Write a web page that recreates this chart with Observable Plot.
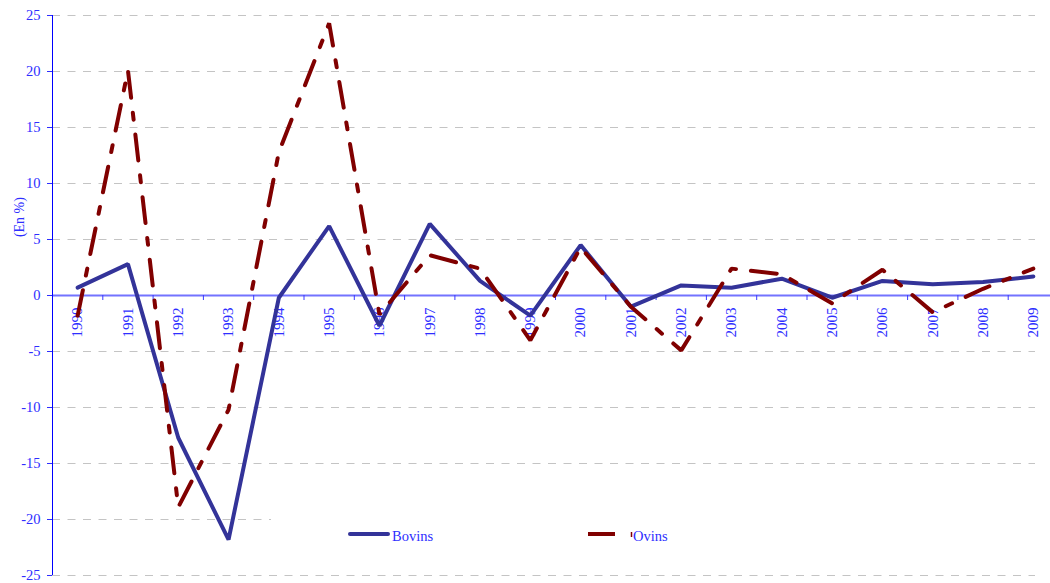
<!DOCTYPE html>
<html><head><meta charset="utf-8">
<script src="https://cdn.jsdelivr.net/npm/d3@7"></script>
<script src="https://cdn.jsdelivr.net/npm/@observablehq/plot@0.6"></script>
<style>
html,body{margin:0;padding:0;background:#fff;}
#wrap{position:relative;width:1050px;height:583px;overflow:hidden;}
#legend{position:absolute;left:271px;top:509px;width:779px;height:54px;background:#fff;}
</style></head><body><div id="wrap"></div>
<script>
const years = [1990,1991,1992,1993,1994,1995,1996,1997,1998,1999,2000,2001,2002,2003,2004,2005,2006,2007,2008,2009];
const bovins = [0.7, 2.8, -12.7, -21.8, -0.2, 6.2, -2.7, 6.4, 1.3, -1.8, 4.5, -1.0, 0.9, 0.7, 1.5, -0.2, 1.3, 1.0, 1.2, 1.7];
const ovins = [-1.8, 20.1, -18.9, -10.2, 12.8, 24.3, -1.7, 3.6, 2.4, -4.0, 4.3, -1.0, -4.9, 2.4, 1.9, -0.7, 2.3, -1.5, 0.6, 2.4];
const yTicks = [25,20,15,10,5,0,-5,-10,-15,-20,-25];
const xTickLabels = years.map(String);
const seriesNames = ["Bovins", "Ovins"];
const yLabel = "(En %)";

const textBlue = "#2e2eff";
const bovData = years.map((y,i)=>({year:y, value:bovins[i]}));
const ovData = years.map((y,i)=>({year:y, value:ovins[i]}));
const boundaries = years.slice(0,-1).map(y=>y+0.5);

const chart = Plot.plot({
  width:1050, height:583, marginTop:15, marginBottom:8, marginLeft:52, marginRight:0,
  x:{type:"linear", domain:[years[0]-0.5, years[years.length-1]+0.5], range:[52,1058], axis:null},
  y:{domain:[-25,25], axis:null},
  style:{fontFamily:"'Liberation Serif', serif", fontSize:"14px", background:"#fff"},
  marks:[
    Plot.ruleY(yTicks.filter(d=>d!==0), {stroke:"#c4c4c4", strokeDasharray:"8,7.5", insetRight:15}),
    Plot.ruleY([0], {stroke:"#7373ff", strokeWidth:2}),
    Plot.ruleX(boundaries, {y1:0, y2:0, insetBottom:-5, stroke:"#3a3aff"}),
    Plot.ruleX([years[0]-0.5], {stroke:"#0000ff"}),
    Plot.axisY({ticks:yTicks, tickSize:5, tickPadding:7, tickFormat:d=>String(d), color:textBlue, label:null, fontSize:14.5}),
    Plot.text(xTickLabels, {x:(d,i)=>years[i], y:()=>0, text:d=>d, rotate:-90, textAnchor:"end", dy:12, fill:textBlue, fontSize:15}),
    Plot.text([yLabel], {frameAnchor:"left", y:()=>7, text:d=>d, dx:-33, rotate:-90, textAnchor:"middle", fill:textBlue, fontSize:14}),
    Plot.line(bovData, {x:"year", y:"value", stroke:"#333399", strokeWidth:4, strokeLinejoin:"miter"}),
    Plot.line(ovData, {x:"year", y:"value", stroke:"#800000", strokeWidth:4, strokeLinejoin:"miter", strokeDasharray:"26,15,7,15"})
  ]
});
const wrap = document.getElementById("wrap");
wrap.appendChild(chart);
const legend = document.createElement("div");
legend.id = "legend";
legend.innerHTML = `<svg width="779" height="54" style="position:absolute;left:0;top:0;font-family:'Liberation Serif',serif;font-size:14.5px">
  <line x1="79" y1="25" x2="117" y2="25" stroke="#333399" stroke-width="4" stroke-linecap="round"/>
  <text x="121" y="32" fill="${textBlue}">${seriesNames[0]}</text>
  <line x1="317" y1="25" x2="344" y2="25" stroke="#800000" stroke-width="4"/>
  <line x1="360.5" y1="23" x2="360.5" y2="28" stroke="#800000" stroke-width="1.5"/>
  <text x="362" y="32" fill="${textBlue}">${seriesNames[1]}</text>
</svg>`;
wrap.appendChild(legend);
</script></body></html>
